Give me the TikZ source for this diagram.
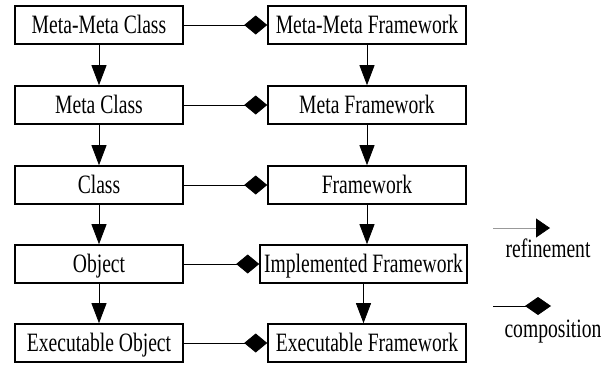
\documentclass[tikz,border=0pt]{standalone}
\usepackage{fontspec}
\setmainfont{Liberation Serif}[FakeStretch=0.74]
\usetikzlibrary{arrows.meta}
\begin{document}
\begin{tikzpicture}[x=1pt,y=-1pt,
  box/.style={draw,line width=1.6pt,inner sep=0pt,minimum height=38pt,text height=17pt,text depth=0pt,font=\fontsize{26.5}{28}\selectfont},
  lbox/.style={box,minimum width=168pt},
  rbox/.style={box,minimum width=198pt},
  refine/.style={line width=0.8pt,-{Triangle[length=20pt,width=15pt]}},
  compose/.style={line width=0.8pt,-{Diamond[length=23pt,width=19pt]}},
  lbl/.style={font=\fontsize{26.5}{28}\selectfont,inner sep=0pt,anchor=base}]
\useasboundingbox (0,0) rectangle (610,364);
\node[lbox] (l1) at (99,25) {Meta-Meta Class};
\node[lbox] (l2) at (99,105) {Meta Class};
\node[lbox] (l3) at (99,185) {Class};
\node[lbox] (l4) at (99,264) {Object};
\node[lbox] (l5) at (99,343) {Executable Object};
\node[rbox] (r1) at (367,25) {Meta-Meta Framework};
\node[rbox] (r2) at (367,105) {Meta Framework};
\node[rbox] (r3) at (367,185) {Framework};
\node[box,minimum width=207pt] (r4) at (363.5,264) {Implemented Framework};
\node[rbox] (r5) at (367,343) {Executable Framework};
\foreach \a/\b in {1/2,2/3,3/4,4/5}{
  \draw[refine] (l\a.south) -- (l\b.north);
  \draw[refine] (r\a.south) -- (r\a.south |- r\b.north);
}
\foreach \i in {1,...,5}{
  \draw[compose] (l\i.east) -- (r\i.west);
}
\coordinate (ra) at (493,228);
\coordinate (rb) at (550,228);
\draw[line width=0.8pt,draw=black!40,-{Triangle[length=14pt,width=19pt,black]}] (ra) -- (rb);
\node[lbl] (rt) at (548,257) {refinement};
\coordinate (ca) at (493,306);
\coordinate (cb) at (551,306);
\draw[line width=0.8pt,-{Diamond[length=26pt,width=18pt]}] (ca) -- (cb);
\node[lbl] (ct) at (553,337) {composition};
\end{tikzpicture}
\end{document}
